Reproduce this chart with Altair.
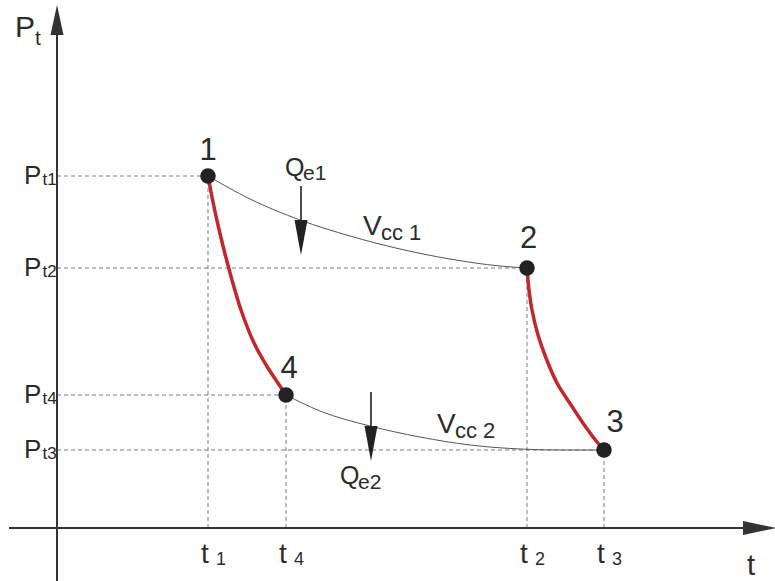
import altair as alt
import pandas as pd

# State points of the cycle (time t, pressure Pt), in diagram units
state_names = ["1", "2", "3", "4"]
state_t = [151, 470, 547, 229]
state_p = [352, 260, 78, 133]

# Red transformation curves 1 -> 4 and 2 -> 3
red14_t = [151, 155.6, 161, 167, 175, 184, 197, 211, 223, 229]
red14_p = [352, 328, 303, 278, 248, 218, 185, 160, 142, 133]
red23_t = [470, 472, 475, 481, 489, 500, 514, 528, 540, 547]
red23_p = [260, 238, 218, 193, 170, 145, 123, 102, 86, 78]

# Constant-volume curves Vcc 1 (1 -> 2) and Vcc 2 (4 -> 3)
vcc1_t = [151, 193, 243, 293, 343, 393, 443, 470]
vcc1_p = [352, 329, 308, 292, 279, 269, 262, 260]
vcc2_t = [229, 263, 313, 363, 413, 463, 503, 547]
vcc2_p = [133, 117, 102, 91, 83, 79, 78, 78]

# Tick labels
p_tick_names = ["t1", "t2", "t4", "t3"]
p_tick_vals = [352, 260, 133, 78]
t_tick_names = ["1", "4", "2", "3"]
t_tick_vals = [151, 229, 470, 547]

# Heat arrows Qe1, Qe2: x position, start and tip pressure
q_names = ["e1", "e2"]
q_t = [244, 314]
q_top = [342, 136]
q_tip = [273, 67]

X_DOM = [-57, 718]
Y_DOM = [-53, 528]
FONT = "Liberation Sans"
INK = "#2b2b2b"

xs = alt.Scale(domain=X_DOM, nice=False, zero=False)
ys = alt.Scale(domain=Y_DOM, nice=False, zero=False)


def X(f="t"):
    return alt.X(f, type="quantitative", scale=xs, axis=None)


def Y(f="p"):
    return alt.Y(f, type="quantitative", scale=ys, axis=None)


states = pd.DataFrame({"name": state_names, "t": state_t, "p": state_p})

curves_red = pd.concat([
    pd.DataFrame({"seg": "14", "t": red14_t, "p": red14_p}),
    pd.DataFrame({"seg": "23", "t": red23_t, "p": red23_p}),
])
curves_vcc = pd.concat([
    pd.DataFrame({"seg": "v1", "t": vcc1_t, "p": vcc1_p}),
    pd.DataFrame({"seg": "v2", "t": vcc2_t, "p": vcc2_p}),
])

# Dashed guide lines from the axes to each state point
h_guides = pd.DataFrame({"t0": 0, "t": state_t, "p": state_p})
v_guides = pd.DataFrame({"p0": 0, "t": state_t, "p": state_p})

layers = []

layers.append(
    alt.Chart(h_guides).mark_rule(color="#7a7a7a", strokeWidth=1, strokeDash=[4, 3])
    .encode(x=X("t0"), x2="t", y=Y("p"))
)
layers.append(
    alt.Chart(v_guides).mark_rule(color="#7a7a7a", strokeWidth=1, strokeDash=[4, 3])
    .encode(x=X("t"), y=Y("p0"), y2="p")
)

# Axes with arrowheads
axes = pd.DataFrame({"x0": [-48, 0], "x1": [700, 0], "y0": [0, -53], "y1": [0, 500]})
layers.append(
    alt.Chart(axes).mark_rule(color="#333333", strokeWidth=2)
    .encode(x=X("x0"), x2="x1", y=Y("y0"), y2="y1")
)
heads = pd.DataFrame({"t": [0, 719], "p": [523, 0],
                      "dir": ["up", "right"]})
layers.append(
    alt.Chart(heads).transform_filter(alt.datum.dir == "up")
    .mark_point(shape="M0,0L6.5,30L-6.5,30Z", size=4, filled=True, opacity=1, color="#333333")
    .encode(x=X(), y=Y())
)
layers.append(
    alt.Chart(heads).transform_filter(alt.datum.dir == "right")
    .mark_point(shape="M0,0L-33,-7L-33,7Z", size=4, filled=True, opacity=1, color="#333333")
    .encode(x=X(), y=Y())
)

# Curves
layers.append(
    alt.Chart(curves_vcc).mark_line(color="#555555", strokeWidth=1, interpolate="monotone")
    .encode(x=X(), y=Y(), detail="seg:N", order="t:Q")
)
layers.append(
    alt.Chart(curves_red).mark_line(color="#c1272d", strokeWidth=3.5, interpolate="catmull-rom")
    .encode(x=X(), y=Y(), detail="seg:N", order="t:Q")
)

# Heat arrows
qdf = pd.DataFrame({"name": q_names, "t": q_t, "top": q_top, "tip": q_tip})
qdf["stem_end"] = qdf["tip"] + 20
layers.append(
    alt.Chart(qdf).mark_rule(color="#222222", strokeWidth=1.6)
    .encode(x=X("t"), y=Y("top"), y2="stem_end")
)
layers.append(
    alt.Chart(qdf).mark_point(shape="M0,0L6.5,-35L-6.5,-35Z", size=4, filled=True, opacity=1,
                              color="#222222")
    .encode(x=X("t"), y=Y("tip"))
)

# State points
layers.append(
    alt.Chart(states).mark_circle(size=240, color="#222222", opacity=1)
    .encode(x=X(), y=Y())
)

# State numbers
num_offsets = {"1": (0, -16), "2": (1.5, -20), "3": (11, -18), "4": (3, -17)}
for nm, (dx, dy) in num_offsets.items():
    layers.append(
        alt.Chart(states).transform_filter(alt.datum.name == nm)
        .mark_text(font=FONT, fontSize=31, color=INK, align="center", baseline="alphabetic",
                   dx=dx, dy=dy)
        .encode(x=X(), y=Y(), text="name:N")
    )

# Pressure tick labels: P with subscript
ptick = pd.DataFrame({"sub": p_tick_names, "p": p_tick_vals, "main": "P",
                      "xm": -33, "xs": -14.5})
layers.append(
    alt.Chart(ptick).mark_text(font=FONT, fontSize=26, color=INK, align="left",
                               baseline="alphabetic", dy=8)
    .encode(x=X("xm"), y=Y("p"), text="main:N")
)
layers.append(
    alt.Chart(ptick).mark_text(font=FONT, fontSize=17, color=INK, align="left",
                               baseline="alphabetic", dy=9)
    .encode(x=X("xs"), y=Y("p"), text="sub:N")
)

# Time tick labels: t with index
ttick = pd.DataFrame({"sub": t_tick_names, "t": t_tick_vals, "main": "t", "p": -35})
layers.append(
    alt.Chart(ttick).mark_text(font=FONT, fontSize=28, color=INK, align="center",
                               baseline="alphabetic", dx=-3)
    .encode(x=X("t"), y=Y("p"), text="main:N")
)
layers.append(
    alt.Chart(ttick).mark_text(font=FONT, fontSize=18, color=INK, align="left",
                               baseline="alphabetic", dx=8, dy=2)
    .encode(x=X("t"), y=Y("p"), text="sub:N")
)

# Axis titles
titles = pd.DataFrame({"main": ["P", "t"], "t": [-42, 690], "p": [491, -47]})
layers.append(
    alt.Chart(titles).transform_filter(alt.datum.main == "P")
    .mark_text(font=FONT, fontSize=30, color=INK, align="left", baseline="alphabetic")
    .encode(x=X(), y=Y(), text="main:N")
)
layers.append(
    alt.Chart(pd.DataFrame({"s": ["t"], "t": [-22], "p": [483]}))
    .mark_text(font=FONT, fontSize=21, color=INK, align="left", baseline="alphabetic")
    .encode(x=X(), y=Y(), text="s:N")
)
layers.append(
    alt.Chart(titles).transform_filter(alt.datum.main == "t")
    .mark_text(font=FONT, fontSize=29, color=INK, align="left", baseline="alphabetic")
    .encode(x=X(), y=Y(), text="main:N")
)

# Heat labels Qe1 / Qe2 and volume labels Vcc 1 / Vcc 2
ann_main = pd.DataFrame({
    "txt": ["Q", "Q", "V", "V"],
    "t": [228, 283, 306, 380],
    "p": [352, 44, 293, 95],
    "size": [25, 25, 28, 28],
})
ann_sub = pd.DataFrame({
    "txt": ["e1", "e2", "cc 1", "cc 2"],
    "t": [246, 301, 324, 398],
    "p": [348, 39, 288, 90],
    "size": [21, 21, 22, 22],
})
layers.append(
    alt.Chart(ann_main).mark_text(font=FONT, color=INK, align="left", baseline="alphabetic")
    .encode(x=X(), y=Y(), text="txt:N", size=alt.Size("size:Q", scale=None, legend=None))
)
layers.append(
    alt.Chart(ann_sub).mark_text(font=FONT, color=INK, align="left", baseline="alphabetic")
    .encode(x=X(), y=Y(), text="txt:N", size=alt.Size("size:Q", scale=None, legend=None))
)

chart = (
    alt.layer(*layers)
    .properties(width=775, height=581, padding=0, autosize="none", background="white")
    .configure_view(stroke=None)
)

chart.save("out.html", embed_options={"renderer": "svg", "actions": False})
